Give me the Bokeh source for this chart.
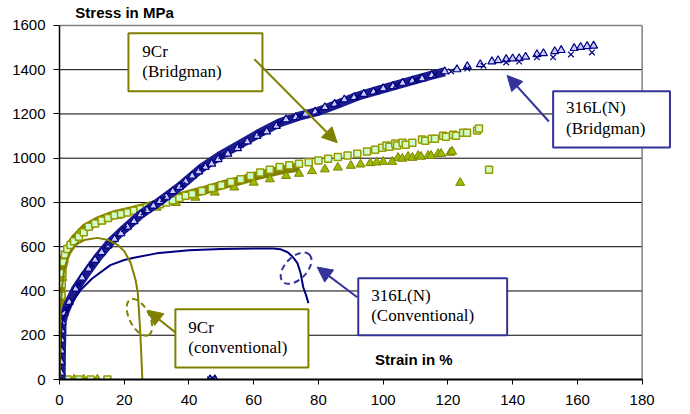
from bokeh.plotting import figure
from bokeh.models import Label, Arrow, NormalHead, BoxAnnotation
from bokeh.embed import file_html
from bokeh.resources import INLINE

# ---------------- data ----------------
x_ticks = [0, 20, 40, 60, 80, 100, 120, 140, 160, 180]
y_ticks = [0, 200, 400, 600, 800, 1000, 1200, 1400, 1600]

# 316L(N) conventional curve
conv316_strain = [0, 0.3, 0.6, 1, 2, 4, 6.5, 10, 15.7, 20, 23, 30, 40, 50, 60, 66,
                  68.2, 70.5, 72, 73.5, 74.5, 75.3, 76.2, 76.9]
conv316_stress = [0, 150, 230, 270, 300, 350, 404, 455, 517, 540, 550, 570, 584, 590, 592, 592,
                  589, 575, 555, 526, 480, 417, 380, 345]

# 9Cr conventional curve
conv9_strain = [0, 0.3, 0.8, 1.5, 3, 5, 8, 11.7, 15, 18, 20, 22, 23.5, 24.2, 24.6, 25, 25.3, 25.6]
conv9_stress = [0, 300, 420, 500, 570, 610, 632, 640, 630, 608, 580, 526, 450, 390, 300, 200, 100, 0]

# 316L(N) Bridgman: dense band centre line
band316_strain = [0.5, 0.6, 0.8, 1.5, 3, 5, 8, 12, 16, 20, 25, 30, 37, 44, 50, 56, 62, 68,
                  74, 80, 86, 92, 98, 104, 110, 115, 119]
band316_stress = [0, 130, 260, 300, 350, 410, 475, 555, 625, 680, 745, 795, 870, 957, 1015,
                  1065, 1115, 1160, 1190, 1212, 1245, 1280, 1305, 1330, 1355, 1375, 1390]

# 316L(N) Bridgman: triangles
tri316_strain = [0.5, 0.5, 0.6, 0.6, 0.7, 0.8, 1.5, 3, 5, 7, 9, 11, 13, 15, 17, 19, 21, 23,
                 25, 27, 29, 31, 33, 35, 37, 39, 41, 43, 45, 47, 49, 52, 55, 58, 61, 64, 67,
                 70, 73, 76, 79, 82, 85, 88, 91, 94, 97, 100, 103, 106, 109, 112, 115, 119,
                 122.8, 126, 130, 133.6, 135.5, 138, 140, 142, 144, 147.5, 149.5, 153, 155,
                 159, 161, 163, 165, 46.5, 48]
tri316_stress = [30, 80, 130, 180, 220, 260, 300, 350, 410, 460, 500, 540, 575, 605, 635, 660,
                 690, 715, 745, 765, 785, 805, 825, 850, 870, 895, 920, 940, 960, 975, 995,
                 1020, 1045, 1075, 1100, 1120, 1145, 1175, 1185, 1200, 1210, 1230, 1245, 1265,
                 1275, 1290, 1300, 1315, 1325, 1340, 1350, 1360, 1375, 1392, 1401, 1415, 1424,
                 1437, 1442, 1447, 1450, 1451, 1458, 1469, 1474, 1483, 1488, 1497, 1502, 1506,
                 1508, 0, 0]

# 316L(N) Bridgman: crosses
x316_strain = [2, 6, 10, 15, 20, 26, 32, 38, 44, 50, 56, 62, 68, 74, 80, 86, 92, 98, 104,
               110, 116, 121, 126, 131, 138, 142, 147.5, 152.5, 158, 164.5, 46.5, 47.5]
x316_stress = [320, 430, 520, 610, 680, 755, 815, 880, 957, 1010, 1060, 1115, 1160, 1190,
               1212, 1245, 1275, 1302, 1330, 1352, 1378, 1392, 1405, 1418, 1433, 1437, 1456,
               1456, 1469, 1478, 0, 0]

# 9Cr Bridgman: dense band centre line
band9_strain = [0.3, 0.3, 0.4, 0.8, 1.5, 2.4, 3.4, 5, 8, 12, 16.7, 22, 27, 32, 37, 44, 50,
                56, 62, 68, 74]
band9_stress = [0, 200, 400, 500, 550, 580, 605, 640, 685, 718, 744, 762, 780, 800, 825, 852,
                878, 900, 925, 945, 960]

# 9Cr Bridgman: squares
sq9_strain = [0.3, 0.3, 0.4, 0.4, 0.5, 0.5, 0.6, 0.7, 0.9, 1.2, 1.7, 2.4, 3.4, 4.5, 6, 7.5,
              9, 11, 13, 15, 17, 19, 21, 23, 25, 27, 29, 31, 33, 35, 37, 39, 41, 44, 47, 50,
              53, 56, 59, 62, 65, 68, 71, 74, 77, 80, 83, 86, 89, 92, 95, 97.5, 99.7, 101,
              101.9, 103.7, 104.3, 106, 107, 109, 112, 113, 115, 116, 118.5, 119.4, 121.6,
              122.5, 124.7, 125.9, 129, 129.6, 132.7, 2.5, 6, 9.6, 14.8]
sq9_stress = [20, 80, 140, 200, 260, 320, 380, 430, 480, 530, 565, 590, 608, 625, 645, 665,
              690, 705, 718, 730, 742, 748, 755, 762, 770, 778, 785, 792, 800, 810, 820, 830,
              838, 852, 865, 878, 892, 905, 920, 935, 948, 960, 968, 975, 982, 990, 998, 1005,
              1012, 1020, 1030, 1038, 1047, 1057, 1052, 1066, 1057, 1070, 1061, 1070, 1084,
              1079, 1088, 1088, 1102, 1097, 1106, 1102, 1115, 1115, 1125, 1134, 948, 0, 0, 0, 0]

# 9Cr Bridgman: triangles
tri9_strain = [0.4, 0.5, 0.6, 0.7, 0.9, 1.4, 2.5, 4, 6, 9, 13, 18, 24, 30, 36, 42, 48, 54,
               60, 65, 70, 74, 78, 82, 86, 90, 93, 96, 98, 100, 102.8, 104.6, 105.9, 107.7,
               109, 110.8, 111.7, 113.9, 114.8, 117, 117.9, 120.7, 121.3, 123.8,
               1, 4.5, 7.5, 11.7]
tri9_stress = [60, 170, 280, 380, 460, 540, 590, 625, 660, 690, 715, 740, 762, 777, 798, 822,
               845, 868, 890, 905, 920, 930, 942, 950, 958, 966, 972, 978, 981, 984, 984,
               1002, 998, 1007, 1002, 1011, 1007, 1011, 1011, 1020, 1020, 1025, 1030, 889,
               0, 0, 0, 0]

# ---------------- styles ----------------
NAVY = "#000080"
BLUE_ANN = "#333399"
OLIVE = "#808000"
OLIVE_M = "#999900"

X_MAX = x_ticks[-1]
Y_MAX = y_ticks[-1]

# the frame is a little larger than the axes so that the titles and the
# right-hand annotation box (which stick out of the axes) are not clipped
p = figure(width=688, height=412, x_range=(0, 190), y_range=(0, 1690),
           output_backend="svg", toolbar_location=None,
           min_border_left=59, min_border_right=14, min_border_top=5, min_border_bottom=33)
p.background_fill_color = "white"
p.border_fill_color = "white"
p.outline_line_color = None
p.xgrid.visible = False
p.ygrid.visible = False

p.xaxis.ticker = x_ticks
p.yaxis.ticker = y_ticks
p.xaxis.bounds = (0, X_MAX)
p.yaxis.bounds = (0, Y_MAX)
for ax in (p.xaxis, p.yaxis):
    ax.minor_tick_line_color = None
    ax.major_tick_in = 0
    ax.major_tick_out = 6
    ax.axis_line_color = "black"
    ax.major_tick_line_color = "black"
    ax.major_label_text_font = "Liberation Sans"
    ax.major_label_text_font_size = "15px"
    ax.major_label_text_color = "black"
p.xaxis.axis_line_width = 2
p.yaxis.axis_line_width = 1.5
p.xaxis.major_tick_out = 5
p.xaxis.major_label_standoff = 10
p.yaxis.major_label_standoff = 8

# horizontal grid lines and plot-area border (drawn only over the axes' extent)
grid_y = y_ticks[1:-1]
p.segment(x0=[0] * len(grid_y), y0=grid_y, x1=[X_MAX] * len(grid_y), y1=grid_y,
          line_color="black", line_width=1)
p.segment(x0=[0, X_MAX], y0=[Y_MAX, 0], x1=[X_MAX, X_MAX], y1=[Y_MAX, Y_MAX],
          line_color="#808080", line_width=1.5)

# 9Cr Bridgman
p.line(band9_strain, band9_stress, line_color=OLIVE, line_width=9, line_join="round")
p.scatter(tri9_strain, tri9_stress, marker="triangle", size=9, fill_color="#99bb00",
          line_color=OLIVE, line_width=1)
p.scatter(sq9_strain, sq9_stress, marker="square", size=7, fill_color="#ccffcc",
          line_color=OLIVE_M, line_width=1.5)

# 316L(N) Bridgman
p.line(band316_strain, band316_stress, line_color="#1c1c8c", line_width=9, line_join="round")
p.scatter(tri316_strain, tri316_stress, marker="triangle", size=8, fill_color="#ccccff",
          line_color=NAVY, line_width=1.2)
p.scatter(x316_strain, x316_stress, marker="x", size=8, line_color=NAVY, line_width=1.2)

# conventional curves
p.line(conv316_strain, conv316_stress, line_color=NAVY, line_width=2)
p.line(conv9_strain, conv9_stress, line_color=OLIVE, line_width=2)

# dashed ellipses
ell_x = [24.7, 73.1]
ell_y = [281, 503]
ell_w = [40, 38]
ell_h = [20, 22]
ell_a = [-1.1, 0.8]
p.ellipse(x=ell_x[:1], y=ell_y[:1], width=ell_w[:1], height=ell_h[:1], angle=ell_a[:1],
          width_units="screen", height_units="screen", fill_color=None,
          line_color=OLIVE, line_width=2, line_dash="6 4")
p.ellipse(x=ell_x[1:], y=ell_y[1:], width=ell_w[1:], height=ell_h[1:], angle=ell_a[1:],
          width_units="screen", height_units="screen", fill_color=None,
          line_color=BLUE_ANN, line_width=2, line_dash="6 4")

# annotation boxes
boxes = [
    (21.3, 62.7, 1565, 1302, OLIVE),
    (152.5, 188.6, 1302, 1048, BLUE_ANN),
    (92.3, 138.3, 458, 200, BLUE_ANN),
    (35.8, 76.9, 317, 54, OLIVE),
]
for l, r, t, b, c in boxes:
    p.add_layout(BoxAnnotation(left=l, right=r, top=t, bottom=b, fill_color="white",
                               fill_alpha=1, line_color=c, line_width=2, line_alpha=1))

texts = [
    (25.6, 1483, "9Cr"), (25.6, 1392, "(Bridgman)"),
    (156.5, 1229, "316L(N)"), (156.5, 1134, "(Bridgman)"),
    (96.3, 381, "316L(N)"), (96.3, 290, "(Conventional)"),
    (39.8, 236, "9Cr"), (39.8, 145, "(conventional)"),
]
for x, y, t in texts:
    p.add_layout(Label(x=x, y=y, text=t, text_font="Liberation Serif", text_font_size="17px",
                       text_baseline="middle", text_align="left", text_color="black"))

arrows = [
    (60.2, 1447, 85.8, 1070, OLIVE),
    (151.2, 1166, 138.3, 1374, BLUE_ANN),
    (92.0, 372, 79.6, 508, BLUE_ANN),
    (35.8, 213, 27.2, 313, OLIVE),
]
for xs, ys, xe, ye, c in arrows:
    p.add_layout(Arrow(end=NormalHead(size=15, fill_color=c, line_color=c),
                       x_start=xs, y_start=ys, x_end=xe, y_end=ye,
                       line_color=c, line_width=2))

# axis titles
p.add_layout(Label(x=4.9, y=1659, text="Stress in MPa", text_font="Liberation Sans",
                   text_font_size="15px", text_font_style="bold", text_baseline="middle",
                   text_color="black"))
p.add_layout(Label(x=97.5, y=91, text="Strain in %", text_font="Liberation Sans",
                   text_font_size="15px", text_font_style="bold", text_baseline="middle",
                   text_color="black"))

open("out.html", "w").write(file_html(p, INLINE))
